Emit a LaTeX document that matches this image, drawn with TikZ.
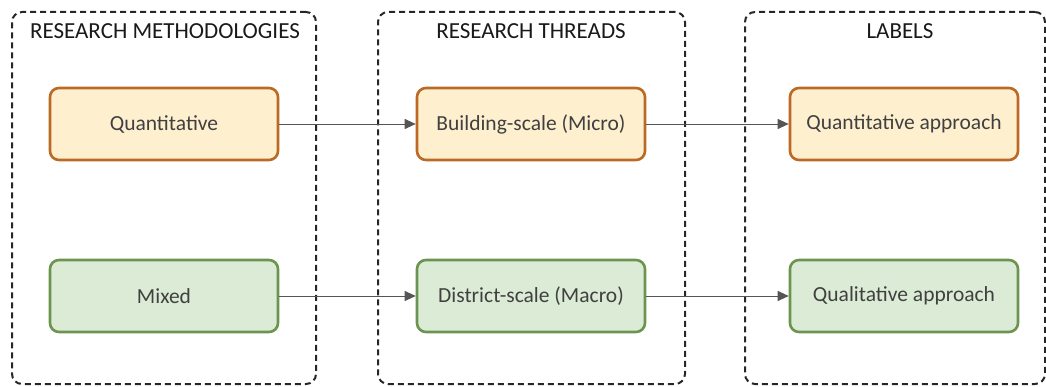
\documentclass[tikz,border=0pt]{standalone}
\usepackage{fontspec}
\setmainfont{Carlito}
\usetikzlibrary{arrows.meta}

\definecolor{orangefill}{HTML}{FEF0CF}
\definecolor{orangeline}{HTML}{BA6A24}
\definecolor{greenfill}{HTML}{DCEBD6}
\definecolor{greenline}{HTML}{6B9450}
\definecolor{linkgray}{HTML}{555555}

\begin{document}
\begin{tikzpicture}[
  x=1pt,y=-1pt,
  group/.style={draw=black!85,line width=2pt,rounded corners=10pt,
    dash pattern=on 6pt off 4pt,minimum width=#1,minimum height=372pt,inner sep=0pt},
  heading/.style={font=\fontsize{23}{27}\selectfont,text=black!90},
  item/.style={rounded corners=9pt,line width=2.6pt,minimum width=228pt,
    minimum height=72pt,font=\fontsize{21.5}{25}\selectfont,text=black!75},
  hot/.style={item,draw=orangeline,fill=orangefill},
  cool/.style={item,draw=greenline,fill=greenfill},
  link/.style={draw=linkgray,line width=0.9pt,-{Triangle[length=11pt,width=10pt]}}
]
  \useasboundingbox (0,0) rectangle (1046,387);

  % dashed columns
  \node[group=304pt] (methods) at (164,198) {};
  \node[group=307pt] (threads) at (531.5,198) {};
  \node[group=300pt] (labels) at (895,198) {};

  \node[heading] (tmethods) at (165,31) {RESEARCH METHODOLOGIES};
  \node[heading] (tthreads) at (531,31) {RESEARCH THREADS};
  \node[heading] (tlabels) at (900,31) {LABELS};

  % top row
  \node[hot] (quant) at (164,124) {Quantitative};
  \node[hot] (micro) at (531,124) {Building-scale (Micro)};
  \node[hot] (quantapp) at (904,124) {Quantitative approach};

  % bottom row
  \node[cool] (mixed) at (164,296) {Mixed};
  \node[cool] (macro) at (531,296) {District-scale (Macro)};
  \node[cool] (qualapp) at (904,296) {Qualitative approach};

  \draw[link] (quant) -- (micro);
  \draw[link] (micro) -- (quantapp);
  \draw[link] (mixed) -- (macro);
  \draw[link] (macro) -- (qualapp);
\end{tikzpicture}
\end{document}
